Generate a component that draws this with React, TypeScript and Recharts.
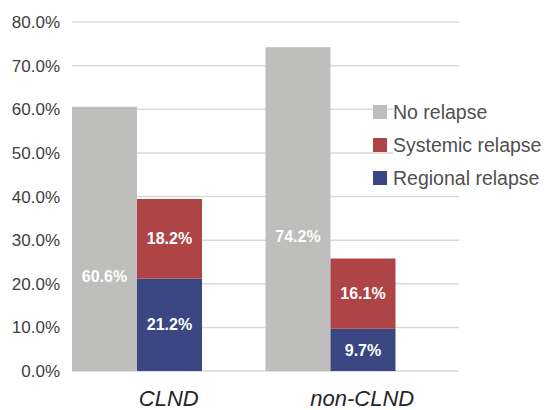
import React from 'react';
import { BarChart, Bar, XAxis, YAxis, CartesianGrid, Legend, LabelList } from 'recharts';

// Relapse outcomes (%) by surgical group
const groups = ['CLND', 'non-CLND'];
const noRelapse = [60.6, 74.2];
const systemicRelapse = [18.2, 16.1];
const regionalRelapse = [21.2, 9.7];
const yTicks = [0, 10, 20, 30, 40, 50, 60, 70, 80];

const FONT = '"Liberation Sans", Arial, Helvetica, sans-serif';
const GRAY = '#BEBEBC';
const RED = '#AE4446';
const BLUE = '#3B4782';

// where the "No relapse" label sits, as a fraction of bar height from the bottom
const grayLabelLift = [0.356, 0.415];

const data = groups.map((group, i) => ({
  group,
  none: noRelapse[i],
  systemic: systemicRelapse[i],
  regional: regionalRelapse[i],
  spacer: 0,
}));

const legendItems = [
  { name: 'No relapse', color: GRAY },
  { name: 'Systemic relapse', color: RED },
  { name: 'Regional relapse', color: BLUE },
];

const pct = (v: number) => `${v.toFixed(1)}%`;

const GrayLabel = (props: any) => {
  const { x, y, width, height, value, index } = props;
  const lift = grayLabelLift[index] ?? 0.5;
  return (
    <text
      x={x + width / 2}
      y={y + height * (1 - lift)}
      textAnchor="middle"
      dominantBaseline="central"
      fill="#FFFFFF"
      fontWeight="bold"
      fontSize={16}
      fontFamily={FONT}
    >
      {pct(value)}
    </text>
  );
};

const LegendBox = () => (
  <div style={{ fontFamily: FONT }}>
    {legendItems.map((it) => (
      <div
        key={it.name}
        style={{
          display: 'flex',
          alignItems: 'center',
          height: 18,
          marginBottom: 15,
          whiteSpace: 'nowrap',
        }}
      >
        <div style={{ width: 14, height: 14, background: it.color, flex: 'none', marginRight: 6 }} />
        <div style={{ fontSize: 19.5, color: '#505050', lineHeight: '18px', background: '#FFFFFF' }}>{it.name}</div>
      </div>
    ))}
  </div>
);

export default function App() {
  return (
    <div style={{ position: 'absolute', left: 0, top: 0, width: 544, height: 410, background: '#FFFFFF' }}>
      <BarChart
        width={544}
        height={410}
        data={data}
        margin={{ top: 22, right: 85, bottom: 0, left: 0 }}
        barCategoryGap={0}
        barGap={0}
      >
        <CartesianGrid horizontal vertical={false} stroke="#D9D9D9" strokeWidth={1.5} />
        <XAxis
          dataKey="group"
          axisLine={false}
          tickLine={false}
          tickSize={0}
          tickMargin={19}
          height={39}
          tick={{ fontSize: 22, fontStyle: 'italic', fill: '#262626', fontFamily: FONT }}
        />
        <YAxis
          domain={[0, 80]}
          ticks={yTicks}
          interval={0}
          width={72}
          axisLine={false}
          tickLine={false}
          tickSize={0}
          tickMargin={12}
          tickFormatter={pct}
          tick={{ fontSize: 17, fill: '#404040', fontFamily: FONT }}
        />
        <Legend
          layout="vertical"
          align="center"
          verticalAlign="middle"
          content={() => <LegendBox />}
          wrapperStyle={{ left: 373, top: 103, width: 180 }}
        />
        <Bar dataKey="none" name="No relapse" stackId="a" fill={GRAY} isAnimationActive={false}>
          <LabelList dataKey="none" content={<GrayLabel />} />
        </Bar>
        <Bar dataKey="regional" name="Regional relapse" stackId="b" fill={BLUE} isAnimationActive={false}>
          <LabelList
            dataKey="regional"
            position="center"
            formatter={(v: any) => pct(Number(v))}
            fill="#FFFFFF"
            fontWeight="bold"
            fontSize={16}
            fontFamily={FONT}
          />
        </Bar>
        <Bar dataKey="systemic" name="Systemic relapse" stackId="b" fill={RED} isAnimationActive={false}>
          <LabelList
            dataKey="systemic"
            position="center"
            formatter={(v: any) => pct(Number(v))}
            fill="#FFFFFF"
            fontWeight="bold"
            fontSize={16}
            fontFamily={FONT}
          />
        </Bar>
        <Bar dataKey="spacer" stackId="c" fill="transparent" legendType="none" isAnimationActive={false} />
      </BarChart>
    </div>
  );
}
